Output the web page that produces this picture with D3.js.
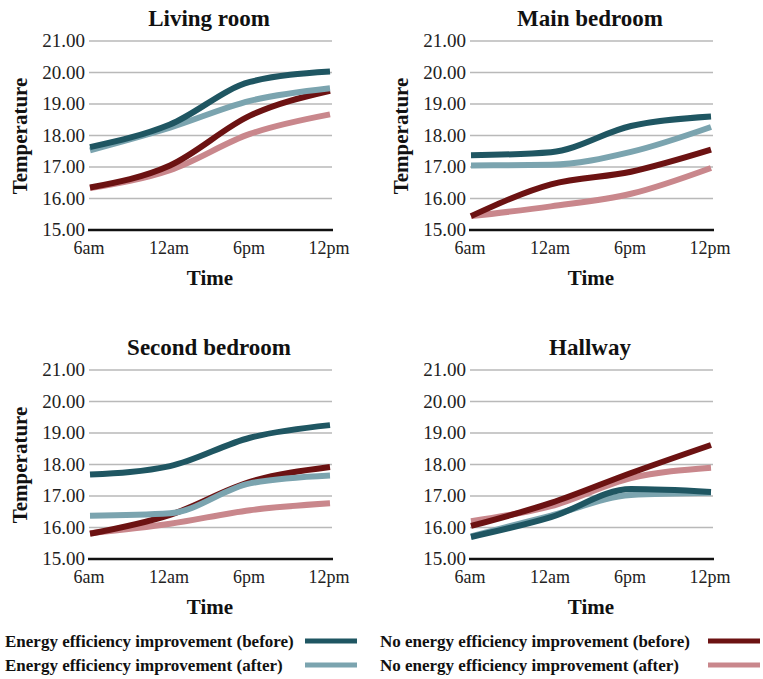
<!DOCTYPE html>
<html>
<head>
<meta charset="utf-8">
<script src="https://cdn.jsdelivr.net/npm/d3@7"></script>
<style>
  body { margin: 0; background: #fff; }
  svg text { font-family: "Liberation Serif", "DejaVu Serif", serif; }
</style>
</head>
<body>
<svg id="chart" width="763" height="679"></svg>
<script>
// categories and labels
const times = ["6am", "12am", "6pm", "12pm"];
const yTicks = [15, 16, 17, 18, 19, 20, 21];
const rooms = ["Living room", "Main bedroom", "Second bedroom", "Hallway"];
const seriesNames = [
    "Energy efficiency improvement (before)",
    "Energy efficiency improvement (after)",
    "No energy efficiency improvement (before)",
    "No energy efficiency improvement (after)"
];
const seriesColors = ["#1f5662", "#7ba4af", "#6c1212", "#c9878c"];

// values per room, same order as seriesNames
const livingRoom = [
    [17.63, 18.35, 19.7, 20.03],
    [17.53, 18.25, 19.1, 19.5],
    [16.35, 17.05, 18.63, 19.42],
    [16.33, 16.9, 18.05, 18.67]
];
const mainBedroom = [
    [17.37, 17.47, 18.3, 18.6],
    [17.05, 17.07, 17.48, 18.27],
    [15.44, 16.45, 16.85, 17.55],
    [15.44, 15.75, 16.15, 16.97]
];
const secondBedroom = [
    [17.68, 17.95, 18.85, 19.25],
    [16.37, 16.45, 17.4, 17.65],
    [15.8, 16.4, 17.45, 17.92],
    [15.82, 16.12, 16.55, 16.77]
];
const hallway = [
    [15.7, 16.33, 17.22, 17.13],
    [15.72, 16.38, 17.03, 17.1],
    [16.05, 16.78, 17.73, 18.62],
    [16.2, 16.68, 17.57, 17.9]
];
const roomValues = [livingRoom, mainBedroom, secondBedroom, hallway];

const font = "'Liberation Serif', 'DejaVu Serif', serif";
const svg = d3.select("#chart");

// panel placement: col, row, and whether the y label shows
const panels = [
    {col: 0, row: 0, yLabel: true},
    {col: 1, row: 0, yLabel: true},
    {col: 0, row: 1, yLabel: true},
    {col: 1, row: 1, yLabel: false}
];

const drawOrder = [3, 2, 1, 0];

panels.forEach(function(p, i){
    let ox = p.col * 381, oy = p.row * 329;
    let g = svg.append("g")
        .attr("transform", "translate(" + ox + "," + oy + ")")
        .attr("font-family", font);

    let x = d3.scalePoint().domain(times).range([90, 330]);
    let y = d3.scaleLinear().domain([15, 21]).range([230, 41]);

    // grid
    g.selectAll("line.grid")
        .data(yTicks.filter(d => d > 15))
        .enter().append("line")
        .attr("x1", 89).attr("x2", 332)
        .attr("y1", d => y(d)).attr("y2", d => y(d))
        .attr("stroke", "#b9b9b9").attr("stroke-width", 1.6);

    g.append("line")
        .attr("x1", 88).attr("x2", 333)
        .attr("y1", y(15)).attr("y2", y(15))
        .attr("stroke", "#111").attr("stroke-width", 2.5);

    // y tick labels
    g.selectAll("text.ytick")
        .data(yTicks)
        .enter().append("text")
        .attr("x", 85).attr("y", d => y(d) + 6)
        .attr("text-anchor", "end")
        .attr("font-size", 19).attr("fill", "#222")
        .text(d => d3.format(".2f")(d));

    // x tick labels
    g.selectAll("text.xtick")
        .data(times)
        .enter().append("text")
        .attr("x", d => x(d) - 1).attr("y", 254)
        .attr("text-anchor", "middle")
        .attr("font-size", 18).attr("fill", "#222")
        .text(d => d);

    // lines
    let line = d3.line()
        .x((d, j) => x(times[j]))
        .y(d => y(d))
        .curve(d3.curveMonotoneX);

    let vals = roomValues[i];
    drawOrder.forEach(function(s){
        g.append("path")
            .attr("d", line(vals[s]))
            .attr("fill", "none")
            .attr("stroke", seriesColors[s])
            .attr("stroke-width", 6)
            .attr("stroke-linecap", "butt");
    });

    // titles
    g.append("text")
        .attr("x", 209).attr("y", 26)
        .attr("text-anchor", "middle")
        .attr("font-size", 23).attr("font-weight", "bold").attr("fill", "#111")
        .text(rooms[i]);

    g.append("text")
        .attr("x", 210).attr("y", 285)
        .attr("text-anchor", "middle")
        .attr("font-size", 21).attr("font-weight", "bold").attr("fill", "#111")
        .text("Time");

    if(p.yLabel){
        g.append("text")
            .attr("transform", "translate(27,136) rotate(-90)")
            .attr("text-anchor", "middle")
            .attr("font-size", 21).attr("font-weight", "bold").attr("fill", "#111")
            .text("Temperature");
    }
});

// legend
const legendPos = [
    {tx: 5, sx: 305, y: 641},
    {tx: 5, sx: 305, y: 665},
    {tx: 380, sx: 708, y: 641},
    {tx: 380, sx: 708, y: 665}
];

legendPos.forEach(function(l, s){
    svg.append("text")
        .attr("x", l.tx).attr("y", l.y + 6)
        .attr("font-family", font)
        .attr("font-size", 17).attr("font-weight", "bold").attr("fill", "#111")
        .text(seriesNames[s]);
    svg.append("line")
        .attr("x1", l.sx).attr("x2", l.sx + 52)
        .attr("y1", l.y).attr("y2", l.y)
        .attr("stroke", seriesColors[s]).attr("stroke-width", 5);
});
</script>
</body>
</html>
